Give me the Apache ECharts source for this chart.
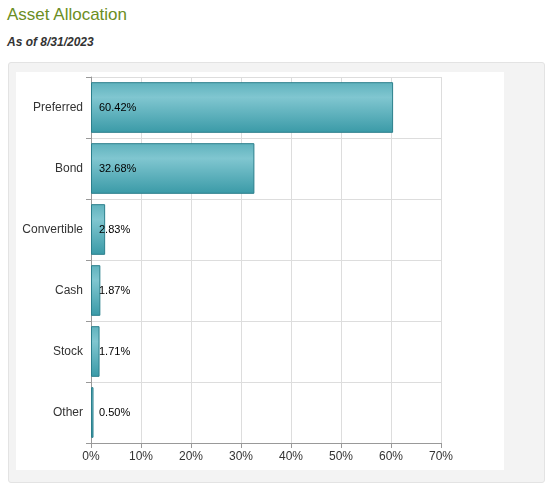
<!DOCTYPE html><html><head><meta charset="utf-8">
<script src="https://cdn.jsdelivr.net/npm/echarts@6/dist/echarts.min.js"></script>
<style>body{margin:0;font-family:Arial,"Liberation Sans",sans-serif;background:#fff}
#t{position:absolute;left:7px;top:5px;font-size:17px;color:#6b8e23}
#s{position:absolute;left:7px;top:35px;font-size:12px;font-weight:bold;font-style:italic;color:#333}
#box{position:absolute;left:8px;top:62px;width:535px;height:419px;background:#f3f3f3;border:1px solid #e3e3e3;border-radius:3px}
#c{position:absolute;left:16px;top:72px;width:488px;height:398px;background:#fff}
</style></head><body>
<div id="t">Asset Allocation</div><div id="s">As of 8/31/2023</div>
<div id="box"></div><div id="c"></div>
<script>
const categories=["Preferred","Bond","Convertible","Cash","Stock","Other"];
const values=[60.42,32.68,2.83,1.87,1.71,0.50];
const ch=echarts.init(document.getElementById('c'));
ch.setOption({animation:false,
grid:{left:75,right:63,top:5,bottom:27},
xAxis:{type:'value',min:0,max:70,interval:10,
 axisLabel:{formatter:'{value}%',color:'#333',fontSize:12,fontFamily:'Arial'},
 axisLine:{show:true,lineStyle:{color:'#999'}},axisTick:{show:true,lineStyle:{color:'#999'}},
 splitLine:{lineStyle:{color:'#ddd'}}},
yAxis:{type:'category',inverse:true,data:categories,
 axisLabel:{color:'#333',fontSize:12,fontFamily:'Arial',margin:8},
 axisLine:{lineStyle:{color:'#999'}},axisTick:{show:true,lineStyle:{color:'#999'}},
 splitLine:{show:true,lineStyle:{color:'#ddd'}}},
series:[{type:'bar',data:values,barWidth:'83%',
 itemStyle:{borderColor:'#2b7f8c',borderWidth:1,
  color:new echarts.graphic.LinearGradient(0,0,0,1,[{offset:0,color:'#5fb2bd'},{offset:0.3,color:'#80c6d0'},{offset:1,color:'#3a9aa7'}])},
 label:{show:true,position:[8,'50%'],verticalAlign:'middle',color:'#000',fontSize:11,fontFamily:'Arial',
  formatter:p=>p.value.toFixed(2)+'%'}}]});
</script></body></html>
